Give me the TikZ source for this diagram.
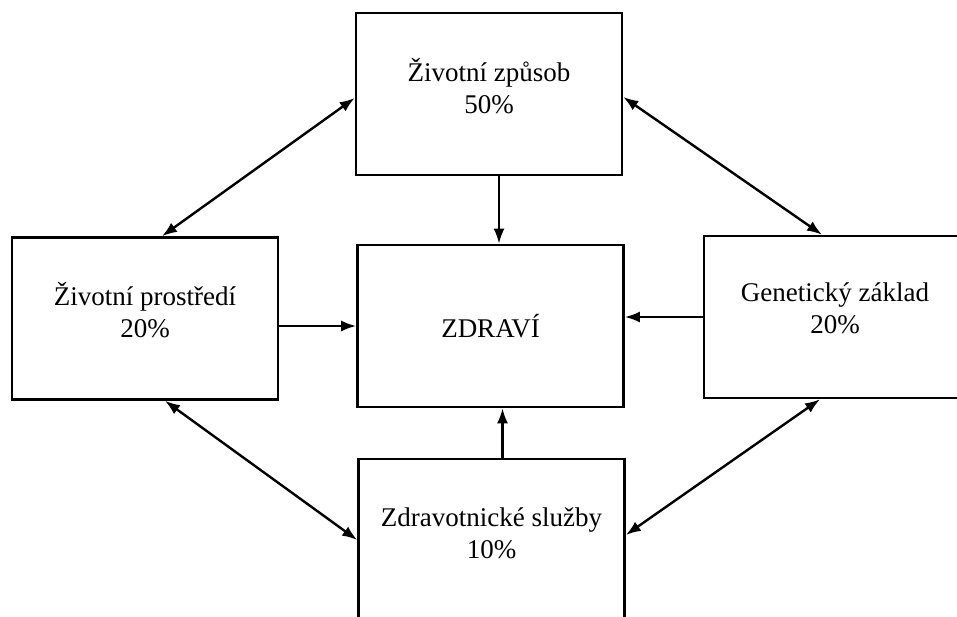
\documentclass[tikz,border=0pt]{standalone}
\usepackage{fontspec}
\setmainfont{Liberation Serif}
\usetikzlibrary{arrows.meta}
\tikzstyle{box}=[rectangle, draw, line width=2.6pt, minimum width=266pt, minimum height=162pt, inner sep=0pt, font=\fontsize{27}{32}\selectfont]
\tikzstyle{boxtext}=[align=center, inner sep=0pt, font=\fontsize{27}{32}\selectfont]

\begin{document}
\begin{tikzpicture}[x=1pt, y=-1pt, line width=2.4pt, >={Latex[length=15pt, width=11pt]}]
                \useasboundingbox (0,0) rectangle (957,617);
                \clip (0,0) rectangle (957,617);
                \node[box] (life) at (489, 94) {};
                \node[box] (env) at (145, 318.5) {};
                \node[box] (health) at (490.5, 326) {ZDRAVÍ};
                \node[box, minimum width=262pt] (gene) at (835, 317) {};
                \node[box] (care) at (491.5, 540) {};
                \node[boxtext] (lifetext) at ([yshift=8pt]life.center) {Životní způsob\\50\%};
                \node[boxtext] (envtext) at ([yshift=8.5pt]env.center) {Životní prostředí\\20\%};
                \node[boxtext] (genetext) at ([yshift=8.5pt]gene.center) {Genetický základ\\20\%};
                \node[boxtext] (caretext) at ([yshift=7pt]care.center) {Zdravotnické služby\\10\%};
                \draw[->] ([xshift=10pt]life.south) -- ([xshift=10pt]life.south |- health.north);
                \draw[->] ([xshift=11pt]care.north) -- ([xshift=11pt]care.north |- health.south);
                \draw[->] (env.east |- health.west) -- (health.west);
                \draw[->] (gene.west) -- (gene.west -| health.east);
                \draw[<->] ([xshift=17pt]env.north) -- ([yshift=-4pt]life.west);
                \draw[<->] ([xshift=-13pt]gene.north) -- ([yshift=-3pt]life.east);
                \draw[<->] ([xshift=20pt]env.south) -- (care.west);
                \draw[<->] ([xshift=-15pt]gene.south) -- ([yshift=5pt]care.east);
            \end{tikzpicture}
\end{document}
